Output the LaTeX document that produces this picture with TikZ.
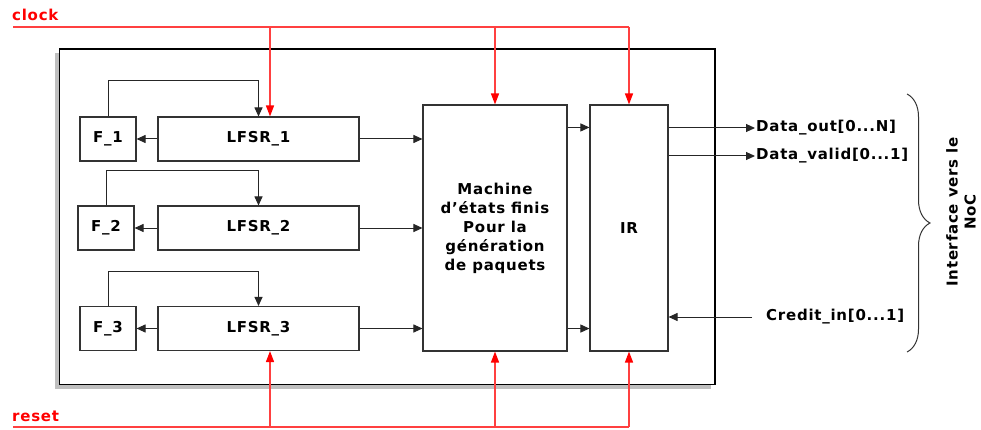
\documentclass[tikz,border=0pt]{standalone}
\usepackage{fontspec}
\setmainfont{DejaVu Sans}[LetterSpace=5]
\usepackage{tikz}
\usetikzlibrary{arrows.meta, calc, decorations.pathreplacing}
\definecolor{sigred}{RGB}{255,64,64}

\tikzset{
  blk/.style={draw=black!80, line width=1.1pt, minimum height=44pt, inner sep=0pt,
    font=\bfseries\fontsize{15}{19}\selectfont},
  lbl/.style={font=\bfseries\fontsize{15}{18}\selectfont, inner sep=1pt},
  wire/.style={draw=black!85, line width=1pt, -{Triangle[length=9pt,width=8pt]}},
  sig/.style={draw=sigred, line width=1.4pt},
  sigarr/.style={sig, -{Triangle[length=11pt,width=8pt,color=red]}},
  sigtxt/.style={font=\bfseries\fontsize{15}{18}\selectfont, text=red, inner sep=0pt}
}

\begin{document}
\begin{tikzpicture}[x=1pt,y=-1pt]
\useasboundingbox (0,0) rectangle (981,430);
% frame with shadow
\fill[black!25] (55,53.5) rectangle (710.5,389);
\draw[line width=1.5pt, fill=white] (59.5,49) rectangle (715,384.5);

\node[blk, minimum width=56pt] (f1) at (108,139) {F\_1};
\node[blk, minimum width=56pt] (f2) at (106,228) {F\_2};
\node[blk, minimum width=56pt] (f3) at (108,328.5) {F\_3};
\node[blk, minimum width=201pt] (lfsr1) at (258.5,139) {LFSR\_1};
\node[blk, minimum width=201pt] (lfsr2) at (258.5,228) {LFSR\_2};
\node[blk, minimum width=201pt] (lfsr3) at (258.5,328.5) {LFSR\_3};
\node[blk, minimum width=144pt, minimum height=246pt, align=center] (fsm) at (495,228)
  {Machine\\d'états finis\\Pour la\\génération\\de paquets};
\node[blk, minimum width=78pt, minimum height=246pt] (ir) at (629,228) {IR};

\foreach \i/\h in {1/36,2/35,3/34} {
  \draw[wire] (f\i.north) -- ++(0,-\h) -| (lfsr\i.north);
  \draw[wire] (lfsr\i.west) -- (f\i.east);
  \draw[wire] (lfsr\i.east) -- (lfsr\i.east -| fsm.west);
}
\draw[wire] ([yshift=-23pt]fsm.north east) -- ([yshift=-23pt]ir.north west);
\draw[wire] ([yshift=23pt]fsm.south east) -- ([yshift=23pt]ir.south west);

% clock and reset
\coordinate (clk) at (13,27);
\coordinate (rst) at (13,427);
\node[sigtxt, anchor=base west] (clktxt) at (12,21) {clock};
\node[sigtxt, anchor=base west] (rsttxt) at (12,421) {reset};
\coordinate (c1) at ($(lfsr1.north)+(11.5,0)$);
\coordinate (c3) at ($(lfsr3.south)+(11.5,0)$);
\draw[sig] (clk) -- (clk -| ir.north);
\draw[sig] (rst) -- (rst -| ir.south);
\draw[sigarr] (c1 |- clk) -- (c1);
\draw[sigarr] (fsm.north |- clk) -- (fsm.north);
\draw[sigarr] (ir.north |- clk) -- (ir.north);
\draw[sigarr] (c3 |- rst) -- (c3);
\draw[sigarr] (fsm.south |- rst) -- (fsm.south);
\draw[sigarr] (ir.south |- rst) -- (ir.south);

% NoC side
\node[lbl, anchor=west] (dout) at (755,128) {Data\_out[0...N]};
\node[lbl, anchor=west] (dval) at (755,156) {Data\_valid[0...1]};
\node[lbl, anchor=west] (cin) at (765,317) {Credit\_in[0...1]};
\draw[wire] (dout.west -| ir.east) -- (dout.west);
\draw[wire] (dval.west -| ir.east) -- (dval.west);
\draw[wire] ([xshift=-13pt]cin.west) -- (cin.west -| ir.east);
\draw[black!80, line width=1pt, decorate, decoration={brace, amplitude=23pt}] (907,94) -- (907,352);
\node[lbl, rotate=90, align=center] (noc) at (961,212) {Interface vers le\\NoC};
\end{tikzpicture}
\end{document}
